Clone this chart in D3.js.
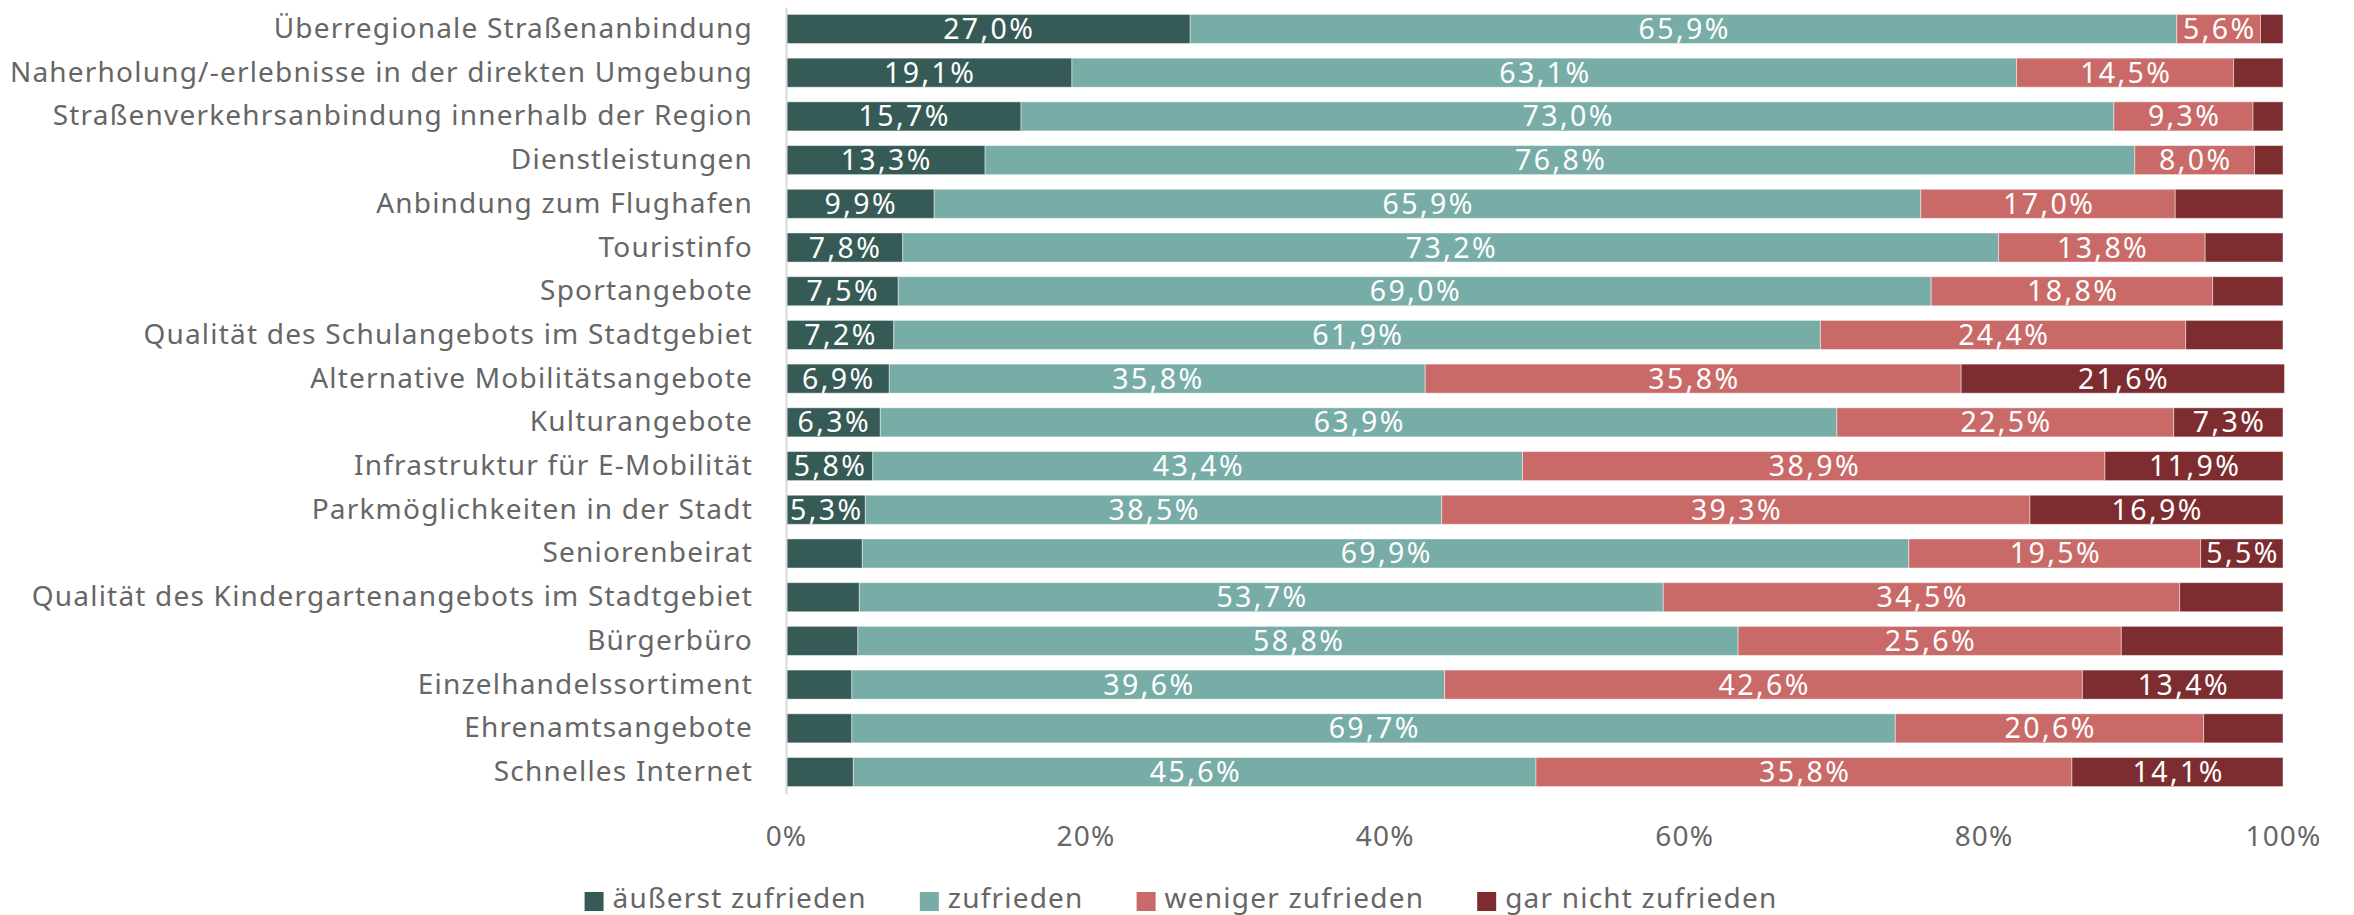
<!DOCTYPE html>
<html>
<head>
<meta charset="utf-8">
<script src="https://cdn.jsdelivr.net/npm/d3@7"></script>
<style>
  html, body { margin: 0; padding: 0; background: #fff; }
  svg { display: block; }
  text { font-family: "Noto Sans", "Open Sans", sans-serif; letter-spacing: 1.2px; }
  text.value { letter-spacing: 2.4px; }
</style>
</head>
<body>
<svg id="chart" width="2354" height="915"></svg>
<script>
const categories = [
    'Überregionale Straßenanbindung',
    'Naherholung/-erlebnisse in der direkten Umgebung',
    'Straßenverkehrsanbindung innerhalb der Region',
    'Dienstleistungen',
    'Anbindung zum Flughafen',
    'Touristinfo',
    'Sportangebote ',
    'Qualität des Schulangebots im Stadtgebiet',
    'Alternative Mobilitätsangebote',
    'Kulturangebote',
    'Infrastruktur für E-Mobilität',
    'Parkmöglichkeiten in der Stadt',
    'Seniorenbeirat',
    'Qualität des Kindergartenangebots im Stadtgebiet',
    'Bürgerbüro',
    'Einzelhandelssortiment',
    'Ehrenamtsangebote',
    'Schnelles Internet'
];

const seriesNames = ['äußerst zufrieden', 'zufrieden', 'weniger zufrieden', 'gar nicht zufrieden'];

const sehrZufrieden   = [27.0, 19.1, 15.7, 13.3, 9.9, 7.8, 7.5, 7.2, 6.9, 6.3, 5.8, 5.3, 5.1, 4.9, 4.8, 4.4, 4.4, 4.5];
const zufrieden       = [65.9, 63.1, 73.0, 76.8, 65.9, 73.2, 69.0, 61.9, 35.8, 63.9, 43.4, 38.5, 69.9, 53.7, 58.8, 39.6, 69.7, 45.6];
const wenigerZufrieden = [5.6, 14.5, 9.3, 8.0, 17.0, 13.8, 18.8, 24.4, 35.8, 22.5, 38.9, 39.3, 19.5, 34.5, 25.6, 42.6, 20.6, 35.8];
const garNicht        = [1.5, 3.3, 2.0, 1.9, 7.2, 5.2, 4.7, 6.5, 21.6, 7.3, 11.9, 16.9, 5.5, 6.9, 10.8, 13.4, 5.3, 14.1];

// which segments carry a data label (one flag per category, per series)
const labelSehr    = [1, 1, 1, 1, 1, 1, 1, 1, 1, 1, 1, 1, 0, 0, 0, 0, 0, 0];
const labelZuf     = [1, 1, 1, 1, 1, 1, 1, 1, 1, 1, 1, 1, 1, 1, 1, 1, 1, 1];
const labelWeniger = [1, 1, 1, 1, 1, 1, 1, 1, 1, 1, 1, 1, 1, 1, 1, 1, 1, 1];
const labelGar     = [0, 0, 0, 0, 0, 0, 0, 0, 1, 1, 1, 1, 1, 0, 0, 1, 0, 1];

const xTicks = [0, 20, 40, 60, 80, 100];

const colors = ['#365a55', '#78ada7', '#c96a69', '#7d2c2f'];
const textColor = '#666666';

const seriesValues = [sehrZufrieden, zufrieden, wenigerZufrieden, garNicht];
const seriesLabels = [labelSehr, labelZuf, labelWeniger, labelGar];

const table = categories.map((name, i) => {
    const row = { name, index: i };
    seriesNames.forEach((s, k) => { row[s] = seriesValues[k][i]; });
    return row;
});

const svg = d3.select('#chart');
const left = 786, right = 2283;

const x = d3.scaleLinear().domain([0, 100]).range([left, right]);
const y = d3.scaleBand().domain(categories).range([7, 794]).paddingInner(0.335).paddingOuter(0.17);

const stacked = d3.stack().keys(seriesNames)(table);

const fmt = v => d3.format('.1f')(v).replace('.', ',') + '%';

const layers = svg.append('g').selectAll('g')
    .data(stacked)
    .join('g')
    .attr('fill', (d, k) => colors[k]);

layers.selectAll('rect')
    .data(d => d)
    .join('rect')
    .attr('x', d => x(d[0]))
    .attr('y', d => y(d.data.name))
    .attr('width', d => x(d[1]) - x(d[0]))
    .attr('height', y.bandwidth())
    .attr('stroke', '#ffffff')
    .attr('stroke-opacity', 0.45)
    .attr('stroke-width', 1);

layers.each(function (layer, k) {
    d3.select(this).selectAll('text')
        .data(layer.filter(d => seriesLabels[k][d.data.index]))
        .join('text')
        .attr('class', 'value')
        .attr('x', d => (x(d[0]) + x(d[1])) / 2 + 1.2)
        .attr('y', d => y(d.data.name) + y.bandwidth() / 2 + 10)
        .attr('text-anchor', 'middle')
        .attr('fill', '#ffffff')
        .attr('font-size', 28.5)
        .text(d => fmt(d[1] - d[0]));
});

// category axis
const yAxis = svg.append('g')
    .attr('transform', `translate(${left},0)`)
    .call(d3.axisLeft(y).tickSize(0).tickPadding(33));
yAxis.select('.domain').attr('stroke', '#d9d9d9').attr('stroke-width', 2);
yAxis.selectAll('text')
    .attr('font-size', 28)
    .attr('fill', textColor)
    .attr('dy', null)
    .attr('y', 9);

// value axis (labels only)
const xAxis = svg.append('g')
    .attr('transform', 'translate(0,800)')
    .call(d3.axisBottom(x).tickValues(xTicks).tickSize(0).tickPadding(0).tickFormat(d => d + '%'));
xAxis.select('.domain').remove();
xAxis.selectAll('text')
    .attr('font-size', 28)
    .attr('fill', textColor)
    .attr('dy', null)
    .attr('y', 46);

// legend
const legend = svg.append('g');
const items = legend.selectAll('g')
    .data(seriesNames)
    .join('g');
items.append('rect')
    .attr('width', 19).attr('height', 19)
    .attr('y', 892)
    .attr('fill', (d, k) => colors[k]);
items.append('text')
    .attr('x', 28)
    .attr('y', 908)
    .attr('font-size', 28)
    .attr('fill', textColor)
    .text(d => d);

let offset = 0;
const widths = [];
items.each(function () {
    const w = 28 + this.querySelector('text').getComputedTextLength();
    widths.push(w);
});
const total = d3.sum(widths) + 53 * (widths.length - 1);
offset = 1181 - total / 2;
items.attr('transform', (d, k) => {
    const t = `translate(${offset},0)`;
    offset += widths[k] + 53;
    return t;
});
</script>
</body>
</html>
